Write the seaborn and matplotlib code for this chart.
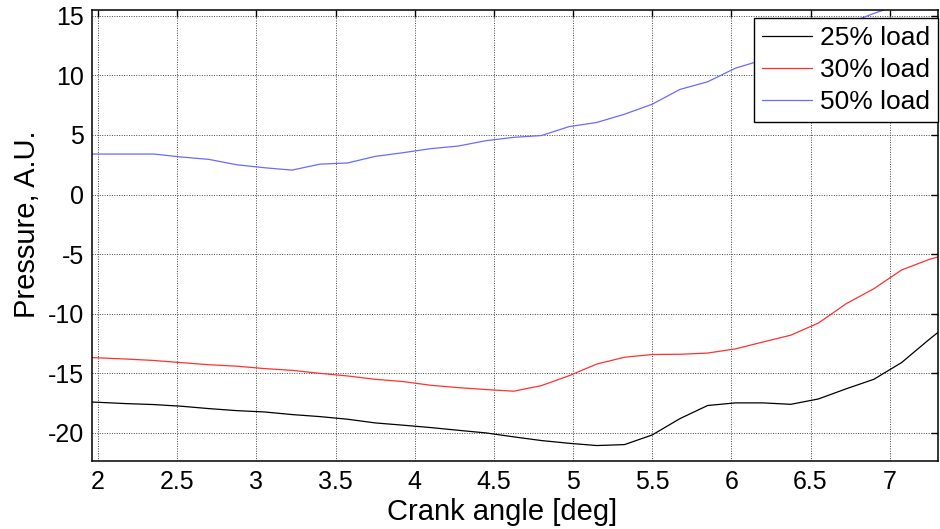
import numpy as np
import pandas as pd
import matplotlib
matplotlib.use('Agg')
import matplotlib.pyplot as plt
import seaborn as sns
from matplotlib.ticker import FormatStrFormatter, MultipleLocator

crank_angle = [1.825, 2.0, 2.175, 2.35, 2.525, 2.7, 2.875, 3.05, 3.225, 3.4, 3.575,
               3.75, 3.925, 4.1, 4.275, 4.45, 4.625, 4.8, 4.975, 5.15, 5.325,
               5.5, 5.675, 5.85, 6.025, 6.2, 6.375, 6.55, 6.725, 6.9, 7.075,
               7.25, 7.425]

load_25 = [-17.35, -17.43, -17.54, -17.62, -17.76, -17.96, -18.13, -18.24, -18.46,
           -18.63, -18.85, -19.16, -19.35, -19.55, -19.78, -20.0, -20.33, -20.64,
           -20.87, -21.06, -20.98, -20.17, -18.8, -17.7, -17.48, -17.48, -17.6,
           -17.15, -16.3, -15.5, -14.1, -12.15, -10.3]

load_30 = [-13.6, -13.7, -13.8, -13.92, -14.1, -14.28, -14.4, -14.6, -14.75, -15.0,
           -15.22, -15.5, -15.69, -16.0, -16.2, -16.36, -16.5, -16.03, -15.2,
           -14.22, -13.65, -13.42, -13.4, -13.3, -12.95, -12.37, -11.8, -10.78,
           -9.16, -7.9, -6.33, -5.44, -4.8]

load_50 = [3.4, 3.4, 3.4, 3.4, 3.15, 2.95, 2.5, 2.25, 2.05, 2.55, 2.65, 3.2, 3.51,
           3.85, 4.07, 4.52, 4.8, 4.95, 5.7, 6.05, 6.74, 7.58, 8.82, 9.46, 10.6,
           11.3, 12.3, 13.3, 14.3, 15.2, 16.0, 16.8, 17.5]

labels = ['25% load', '30% load', '50% load']
colors = ['black', '#ff3030', '#6a6aff']

df = pd.concat([
    pd.DataFrame({'angle': crank_angle, 'pressure': vals, 'series': lab})
    for vals, lab in zip([load_25, load_30, load_50], labels)
])

sns.set_style('white')
plt.rcParams['font.family'] = ['Liberation Sans', 'DejaVu Sans']
plt.rcParams['axes.unicode_minus'] = False
plt.rcParams['text.color'] = 'black'
plt.rcParams['axes.labelcolor'] = 'black'
plt.rcParams['xtick.color'] = 'black'
plt.rcParams['ytick.color'] = 'black'

fig = plt.figure(figsize=(9.4, 5.29), dpi=100)
ax = fig.add_axes([0.098, 0.128, 0.9, 0.853])

sns.lineplot(data=df, x='angle', y='pressure', hue='series', palette=colors,
             hue_order=labels, linewidth=0.9, ax=ax, sort=False)

ax.set_xlim(1.962, 7.306)
ax.set_ylim(-22.38, 15.48)
ax.xaxis.set_major_locator(MultipleLocator(0.5))
ax.yaxis.set_major_locator(MultipleLocator(5))
ax.xaxis.set_major_formatter(FormatStrFormatter('%g'))
ax.yaxis.set_major_formatter(FormatStrFormatter('%g'))
ax.grid(True, color='#444444', linestyle=(0, (1, 1.5)), linewidth=0.7)
ax.tick_params(direction='in', top=True, right=True, length=5, width=1,
               labelsize=18, colors='black', pad=6)
for s in ax.spines.values():
    s.set_color('black')
    s.set_linewidth(1.1)

ax.set_xlabel('Crank angle [deg]', fontsize=21)
ax.set_ylabel('Pressure, A.U.', fontsize=21)
ax.xaxis.set_label_coords(0.485, -0.113, transform=ax.transAxes)
ax.yaxis.set_label_coords(-0.077, 0.525, transform=ax.transAxes)
ax.xaxis.label.set_va('center')
ax.yaxis.label.set_va('center')

leg = ax.legend(loc='upper right', bbox_to_anchor=(1.0, 1 - 8 / 451),
                borderaxespad=0, fontsize=19, frameon=True, fancybox=False,
                handlelength=1.9, handletextpad=0.3, labelspacing=0.3,
                borderpad=0.3)
leg.get_frame().set_edgecolor('black')
leg.get_frame().set_linewidth(1.0)
leg.get_frame().set_alpha(1)

fig.savefig('out.png', dpi=100)
